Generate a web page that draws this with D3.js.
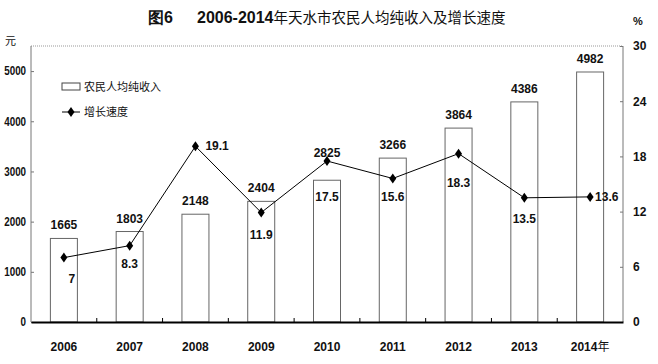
<!DOCTYPE html>
<html>
<head>
<meta charset="utf-8">
<script src="https://cdn.jsdelivr.net/npm/d3@7"></script>
<style>
body { margin: 0; background: #fff; }
svg text { font-family: "Liberation Sans Narrow", "Liberation Sans", sans-serif; font-stretch: condensed; font-weight: bold; fill: #111; }
svg text.cjk { font-family: "Noto Sans CJK SC", sans-serif; font-weight: normal; font-stretch: normal; }
</style>
</head>
<body>
<script>
// data
var years = ['2006', '2007', '2008', '2009', '2010', '2011', '2012', '2013', '2014'];
var income = [1665, 1803, 2148, 2404, 2825, 3266, 3864, 4386, 4982];
var growth = [7, 8.3, 19.1, 11.9, 17.5, 15.6, 18.3, 13.5, 13.6];
var leftTicks = [0, 1000, 2000, 3000, 4000, 5000];
var rightTicks = [0, 6, 12, 18, 24, 30];

// label placement (not data): growth labels either to the right of the marker or below it
var growthLabelRight = [false, false, true, false, false, false, false, false, true];
var growthLabelDx = [8, 0, 10, 0, 0, 0, 0, 0, 5];
var growthLabelDy = [25, 22, 4, 26, 40, 23, 33, 25, 4];
// extra lift for the income label (2010 sits above the line)
var incomeLabelLift = [0, 0, 0, 0, 14, 0, 0, 0, 0];

var W = 658, H = 364;
var margin = { top: 46, right: 35, bottom: 42, left: 31 };
var width = W - margin.left - margin.right;
var height = H - margin.top - margin.bottom;

var svg = d3.select('body').append('svg')
	.attr('width', W)
	.attr('height', H);

var g = svg.append('g')
	.attr('transform', `translate(${margin.left}, ${margin.top})`);

var x = d3.scaleBand().domain(years).range([0, width]);
var yL = d3.scaleLinear().domain([0, 5500]).range([height, 0]);
var yR = d3.scaleLinear().domain([0, 30]).range([height, 0]);

// title: bold latin part, plain CJK part
var title = svg.append('text')
	.attr('y', 23)
	.style('font-size', '16px');
title.append('tspan').attr('x', 148).text('图6');
title.append('tspan').attr('x', 197).text('2006-2014');
title.append('tspan')
	.attr('class', 'cjk')
	.style('font-family', '"Noto Sans CJK SC", sans-serif')
	.style('font-weight', 'normal')
	.style('font-size', '14.5px')
	.text('年天水市农民人均纯收入及增长速度');

// units
svg.append('text').attr('class', 'cjk')
	.attr('x', 5).attr('y', 45)
	.style('font-size', '11px')
	.text('元');
svg.append('text')
	.attr('x', 633).attr('y', 25)
	.style('font-size', '11px')
	.text('%');

// dotted top border
g.append('line')
	.attr('x1', 0).attr('x2', width)
	.attr('y1', 0).attr('y2', 0)
	.attr('stroke', '#999')
	.attr('stroke-dasharray', '1,1');

// bars
g.selectAll('rect.bar')
	.data(income)
	.enter().append('rect')
	.attr('class', 'bar')
	.attr('x', function(d, i) { return x(years[i]) + x.bandwidth() / 2 - 13.5; })
	.attr('y', function(d) { return yL(d); })
	.attr('width', 27)
	.attr('height', function(d) { return height - yL(d); })
	.attr('fill', '#fff')
	.attr('stroke', '#666')
	.attr('stroke-width', 1);

// left axis
var leftAxis = g.append('g')
	.call(d3.axisLeft(yL).tickValues(leftTicks).tickFormat(d3.format('d')).tickSize(-3).tickPadding(6));
leftAxis.select('.domain').attr('stroke', '#777').attr('d', `M0,0V${height}`);
leftAxis.selectAll('line').attr('stroke', '#777');
// squeeze the labels a bit, the original uses a narrow face
leftAxis.selectAll('text')
	.style('font-size', '12px')
	.attr('transform', 'scale(0.82, 1)');

// right axis
var rightAxis = g.append('g')
	.attr('transform', `translate(${width}, 0)`)
	.call(d3.axisRight(yR).tickValues(rightTicks).tickSize(-3).tickPadding(10));
rightAxis.select('.domain').attr('stroke', '#777').attr('d', `M0,0V${height}`);
rightAxis.selectAll('line').attr('stroke', '#777');
rightAxis.selectAll('text').style('font-size', '12px');

// bottom axis
var bottom = g.append('g')
	.attr('transform', `translate(0, ${height})`)
	.call(d3.axisBottom(x).tickSize(0).tickPadding(20)
		.tickFormat(function(d) { return d; }));
bottom.select('.domain').attr('stroke', '#000').attr('stroke-width', 2);
bottom.selectAll('text').style('font-size', '12px');
// the last category carries the 年 unit
bottom.selectAll('.tick text')
	.filter(function(d) { return d === '2014'; })
	.append('tspan')
	.attr('class', 'cjk')
	.style('font-family', '"Noto Sans CJK SC", sans-serif')
	.style('font-weight', 'normal')
	.text('年');

// small category separators on the bottom axis
g.selectAll('line.sep')
	.data(years.slice(1))
	.enter().append('line')
	.attr('class', 'sep')
	.attr('x1', function(d) { return x(d); })
	.attr('x2', function(d) { return x(d); })
	.attr('y1', height)
	.attr('y2', height - 4)
	.attr('stroke', '#000');

// growth line
var cx = function(i) { return x(years[i]) + x.bandwidth() / 2; };
var line = d3.line()
	.x(function(d, i) { return cx(i); })
	.y(function(d) { return yR(d); });

g.append('path')
	.datum(growth)
	.attr('fill', 'none')
	.attr('stroke', '#000')
	.attr('stroke-width', 1)
	.attr('d', line);

var diamond = 'M0,-5L3.5,0L0,5L-3.5,0Z';
g.selectAll('path.mark')
	.data(growth)
	.enter().append('path')
	.attr('class', 'mark')
	.attr('transform', function(d, i) { return `translate(${cx(i)}, ${yR(d)})`; })
	.attr('d', diamond)
	.attr('fill', '#000');

// income labels
g.selectAll('text.inc')
	.data(income)
	.enter().append('text')
	.attr('class', 'inc')
	.attr('x', function(d, i) { return cx(i); })
	.attr('y', function(d, i) { return yL(d) - 9 - incomeLabelLift[i]; })
	.attr('text-anchor', 'middle')
	.style('font-size', '12px')
	.text(function(d) { return d; });

// growth labels
g.selectAll('text.gr')
	.data(growth)
	.enter().append('text')
	.attr('class', 'gr')
	.attr('x', function(d, i) { return cx(i) + growthLabelDx[i]; })
	.attr('y', function(d, i) { return yR(d) + growthLabelDy[i]; })
	.attr('text-anchor', function(d, i) { return growthLabelRight[i] ? 'start' : 'middle'; })
	.style('font-size', '12px')
	.text(function(d) { return d; });

// legend
var lg = svg.append('g').attr('transform', 'translate(62, 0)');
lg.append('rect')
	.attr('x', 0).attr('y', 83)
	.attr('width', 18).attr('height', 7)
	.attr('fill', '#fff')
	.attr('stroke', '#444');
lg.append('text').attr('class', 'cjk')
	.attr('x', 22).attr('y', 91)
	.style('font-size', '11px')
	.text('农民人均纯收入');
lg.append('line')
	.attr('x1', 0).attr('x2', 18)
	.attr('y1', 112).attr('y2', 112)
	.attr('stroke', '#000');
lg.append('path')
	.attr('transform', 'translate(9, 112)')
	.attr('d', diamond)
	.attr('fill', '#000');
lg.append('text').attr('class', 'cjk')
	.attr('x', 22).attr('y', 116)
	.style('font-size', '11px')
	.text('增长速度');
</script>
</body>
</html>
